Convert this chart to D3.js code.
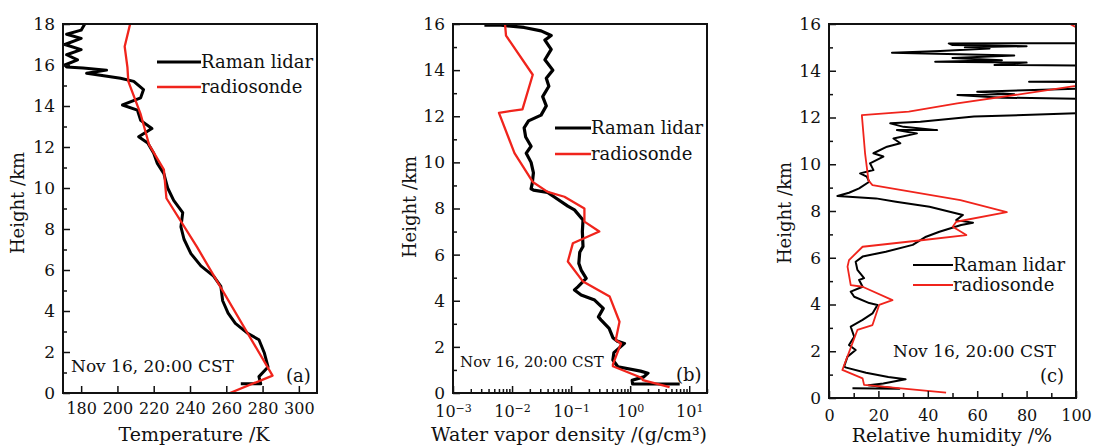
<!DOCTYPE html>
<html lang="en">
<head>
    <meta charset="UTF-8">
    <title>Raman lidar vs radiosonde</title>
    <script src="https://d3js.org/d3.v7.min.js"></script>
</head>
<body>
    <div class="chart"></div>
    <style>
        body{ margin:0; background:#fff; }
        .chart{ width:1093px; height:447px; }
        text{ font-family:"DejaVu Serif", serif; fill:#111; }
    </style>
    <script>
    // ---- data: [value, height km] ----
    // (a) temperature /K
    const tempLidar = [[268,0.45],[279,0.45],[278,0.8],[283,1.27],[281,1.95],[278,2.6],[272,2.9],[265,3.4],[261,3.9],
        [258,4.5],[257,5.2],[253,5.7],[246,6.2],[240.5,6.8],[236.7,7.5],[235,8.1],[236,8.8],[231,9.4],[227.7,10.0],
        [226.5,10.4],[225.6,10.7],[222,11.2],[220,11.7],[216.7,12.2],[211.7,12.5],[219,12.9],[212.8,13.3],[211,13.8],
        [202.8,14.05],[212.8,14.4],[214.4,14.8],[209,15.2],[201.7,15.35],[190.6,15.5],[183,15.6],[194,15.75],[181,15.85],
        [172,15.9],[171,16],[178,16.25],[172,16.5],[180,16.75],[171,17],[180,17.3],[172,17.5],[180,17.7],[182,18]];
    const tempSonde = [[262,0],[285.5,0.85],[244,7.1],[227,9.5],[225.6,10.9],[217.5,12.1],[212.8,13.6],[206,15.2],
        [205.5,15.9],[204,16.9],[207,18]];
    // (b) water vapor density /(g/cm3)
    const wvLidar = [[6.9,0.39],[1.1,0.39],[1.08,0.55],[1.7,0.7],[2.0,0.86],[1.5,0.95],[0.62,1.14],[0.51,1.43],[0.53,1.75],
        [0.8,2.15],[0.6,2.25],[0.51,2.4],[0.44,2.8],[0.32,3.17],[0.29,3.3],[0.35,3.67],[0.25,4.03],[0.148,4.25],[0.114,4.47],
        [0.13,4.6],[0.18,4.97],[0.148,5.33],[0.135,5.62],[0.14,6.1],[0.159,6.35],[0.155,7.0],[0.159,7.5],[0.114,7.94],
        [0.088,8.1],[0.052,8.5],[0.04,8.7],[0.023,8.8],[0.021,8.85],[0.022,9.1],[0.023,9.55],[0.021,10],[0.0174,10.4],
        [0.021,10.7],[0.017,11.1],[0.016,11.5],[0.019,11.8],[0.031,12.05],[0.038,12.45],[0.033,12.85],[0.042,13.3],
        [0.038,13.65],[0.049,14.0],[0.036,14.45],[0.046,14.9],[0.036,15.3],[0.046,15.5],[0.031,15.7],[0.016,15.85],
        [0.0065,15.95],[0.0034,15.95]];
    const wvSonde = [[4.65,0.25],[1.64,0.56],[1.55,0.66],[0.51,1.16],[0.51,1.24],[0.70,2.15],[0.57,2.3],[0.66,3.09],
        [0.45,4.18],[0.159,4.83],[0.088,5.7],[0.107,6.49],[0.30,7.0],[0.168,7.43],[0.168,8.0],[0.077,8.51],[0.04,8.72],
        [0.0224,9.15],[0.011,10.4],[0.006,12.15],[0.015,12.3],[0.0224,13.8],[0.0079,15.5],[0.0076,16]];
    // (c) relative humidity /%
    const rhLidar = [[9.5,0.42],[28.5,0.4],[16,0.55],[22,0.62],[31,0.8],[24,0.9],[15,1.08],[7,1.3],[6.1,1.34],[7.5,1.77],
        [10.8,2.05],[8.1,2.27],[10.2,2.62],[8.8,3.05],[13.6,3.34],[17.6,3.62],[19.6,3.98],[16.3,4.06],[10.2,4.33],[8.8,4.55],
        [13.6,4.76],[12.2,5.05],[14.2,5.13],[11.5,5.48],[10.8,5.83],[13.6,6.05],[23,6.26],[33.9,6.55],[39.3,6.9],[44.7,7.11],
        [53.5,7.4],[58.3,7.5],[51.5,7.61],[54.2,7.83],[40.7,8.18],[27.1,8.4],[19,8.54],[3.4,8.64],[8.1,8.78],[12.2,8.97],
        [16.3,9.25],[15.3,9.47],[12.6,9.61],[18,9.75],[16.6,10.04],[22,10.33],[18,10.47],[23.5,10.75],[28.9,10.9],
        [26.1,11.1],[35.6,11.32],[27.5,11.46],[43.8,11.46],[30.2,11.6],[24.8,11.75],[37,11.82],[58.7,12.04],[100,12.18],
        [130,12.2],[130,12.75],[70,12.85],[52,12.96],[75,13.0],[60,13.1],[90,13.2],[130,13.3],[130,13.5],[81,13.53],
        [130,13.56],[130,14.2],[67,14.25],[80,14.35],[43,14.39],[70,14.45],[50,14.55],[75,14.65],[25.5,14.77],[45,14.85],
        [65,14.95],[55,15.0],[80,15.05],[50,15.1],[48.5,15.17],[130,15.18]];
    const rhSonde = [[47.4,0.23],[14.2,0.56],[13.6,0.84],[5.4,1.2],[11.5,2.91],[17.6,3.12],[20.3,3.98],[25.7,4.19],
        [13.6,4.76],[8.8,4.83],[7.5,5.62],[8.1,5.9],[13.6,6.47],[38.3,6.76],[55.6,6.97],[50.1,7.33],[51.5,7.54],[72,7.95],
        [53.2,8.47],[17.6,9.11],[16,9.3],[14.6,10.47],[13.3,12.1],[32.3,12.25],[51.9,12.6],[100,13.35],[115,14.5],
        [100,15.86],[97.6,16]];

    const tempTicks = [180,200,220,240,260,280,300];
    const wvTicks = [1e-3,1e-2,1e-1,1,10];
    const rhTicks = [0,20,40,60,80,100];

    const svg = d3.select('.chart').append('svg')
        .attr('width',1093).attr('height',447);

    const fmtPow = d => Math.round(Math.log10(d));

    function drawPanel(p){
        const g = svg.append('g');
        const x = (p.log ? d3.scaleLog() : d3.scaleLinear()).domain(p.xDomain).range([p.left,p.right]);
        const y = d3.scaleLinear().domain(p.yDomain).range([p.bottom,p.top]);

        g.append('clipPath').attr('id','clip'+p.id).append('rect')
            .attr('x',p.left).attr('y',p.top).attr('width',p.right-p.left).attr('height',p.bottom-p.top);

        const line = d3.line().x(d=>x(d[0])).y(d=>y(d[1]));
        g.append('path').attr('d',line(p.lidar)).attr('fill','none')
            .attr('stroke','#000').attr('stroke-width',p.lidarW).attr('stroke-linejoin','round')
            .attr('clip-path','url(#clip'+p.id+')');
        g.append('path').attr('d',line(p.sonde)).attr('fill','none')
            .attr('stroke','#f0241c').attr('stroke-width',p.sondeW).attr('stroke-linejoin','round')
            .attr('clip-path','url(#clip'+p.id+')');

        // minor ticks
        const minorX = g.append('g').attr('transform',`translate(0,${p.bottom})`)
            .call(d3.axisBottom(x).tickValues(p.xMinor).tickSize(-p.xMinorLen).tickFormat(''));
        const minorY = g.append('g').attr('transform',`translate(${p.left},0)`)
            .call(d3.axisLeft(y).tickValues(d3.range(p.yDomain[0]+1,p.yDomain[1],2)).tickSize(-4).tickFormat(''));
        [minorX,minorY].forEach(a=>a.select('.domain').remove());

        // major ticks
        const xAxis = d3.axisBottom(x).tickValues(p.xTicks).tickSize(-7).tickPadding(p.xPad);
        if(p.log) xAxis.tickFormat(d=>'');
        const xg = g.append('g').attr('transform',`translate(0,${p.bottom})`).call(xAxis);
        const yg = g.append('g').attr('transform',`translate(${p.left},0)`)
            .call(d3.axisLeft(y).tickValues(d3.range(p.yDomain[0],p.yDomain[1]+1,2)).tickSize(-7).tickPadding(8));
        [xg,yg].forEach(a=>{
            a.select('.domain').remove();
            a.selectAll('text').style('font-size','16px').style('font-family','"DejaVu Serif", serif').attr('fill','#111');
        });
        yg.selectAll('text').style('font-size','17px');
        g.selectAll('.tick line').attr('stroke','#111').attr('stroke-width',1.5);

        if(p.log){
            xg.selectAll('.tick text').each(function(d){
                const t = d3.select(this);
                const e = fmtPow(d);
                t.append('tspan').text('10');
                t.append('tspan').text(e<0 ? '\u2212'+(-e) : e).attr('dy','-0.45em').style('font-size','11px');
            });
        }

        // frame
        g.append('rect').attr('x',p.left).attr('y',p.top)
            .attr('width',p.right-p.left).attr('height',p.bottom-p.top)
            .attr('fill','none').attr('stroke','#111').attr('stroke-width',2);

        // axis titles
        g.append('text').attr('x',p.xTitleX).attr('y',p.xTitleY).attr('text-anchor','middle')
            .style('font-size','19px').text(p.xTitle);
        g.append('text').attr('transform',`translate(${p.yTitleX},${p.yTitleY}) rotate(-90)`)
            .attr('text-anchor','middle').attr('dy','0.35em')
            .style('font-size','18px').text('Height /km');

        // legend
        const lg = p.legend;
        g.append('line').attr('x1',lg.x).attr('x2',lg.x+lg.len).attr('y1',lg.y).attr('y2',lg.y)
            .attr('stroke','#000').attr('stroke-width',p.lidarW);
        g.append('line').attr('x1',lg.x).attr('x2',lg.x+lg.len).attr('y1',lg.y+lg.gap).attr('y2',lg.y+lg.gap)
            .attr('stroke','#f0241c').attr('stroke-width',p.sondeW);
        g.append('text').attr('x',lg.x+lg.len).attr('y',lg.y+6).style('font-size','18px').text('Raman lidar');
        g.append('text').attr('x',lg.x+lg.len).attr('y',lg.y+lg.gap+6).style('font-size','18px').text('radiosonde');

        // notes
        g.append('text').attr('x',p.note.x).attr('y',p.note.y).style('font-size',p.note.size+'px').text('Nov 16, 20:00 CST');
        g.append('text').attr('x',p.tag.x).attr('y',p.tag.y).style('font-size','18px').text(p.tag.label);
    }

    // log minor tick values
    const logMinor = [];
    for(let e=-3;e<=1;e++) for(let m=2;m<=9;m++){ const v=m*Math.pow(10,e); if(v<=20) logMinor.push(v); }

    drawPanel({id:'a', left:63, right:317, top:24, bottom:393, xDomain:[170,310], yDomain:[0,18],
        xTicks:tempTicks, xMinor:[], xMinorLen:4, xPad:10,
        lidar:tempLidar, sonde:tempSonde, lidarW:3, sondeW:2.3,
        xTitle:'Temperature /K', xTitleX:194, xTitleY:441, yTitleX:18, yTitleY:203,
        legend:{x:157,y:62,len:44,gap:25},
        note:{x:71,y:372,size:17}, tag:{x:286,y:382,label:'(a)'}});

    drawPanel({id:'b', log:true, left:453, right:707, top:24, bottom:393, xDomain:[1e-3,20], yDomain:[0,16],
        xTicks:wvTicks, xMinor:logMinor, xMinorLen:4, xPad:13,
        lidar:wvLidar, sonde:wvSonde, lidarW:3.2, sondeW:2.3,
        xTitle:'Water vapor density /(g/cm³)', xTitleX:569, xTitleY:441, yTitleX:410, yTitleY:207,
        legend:{x:555,y:128,len:36,gap:26},
        note:{x:460,y:367,size:15}, tag:{x:676,y:381,label:'(b)'}});

    drawPanel({id:'c', left:829, right:1076, top:24, bottom:398, xDomain:[0,100], yDomain:[0,16],
        xTicks:rhTicks, xMinor:[10,30,50,70,90], xMinorLen:5, xPad:12,
        lidar:rhLidar, sonde:rhSonde, lidarW:2, sondeW:1.8,
        xTitle:'Relative humidity /%', xTitleX:952, xTitleY:442, yTitleX:785, yTitleY:213,
        legend:{x:913,y:265,len:40,gap:20},
        note:{x:893,y:357,size:17}, tag:{x:1040,y:382,label:'(c)'}});
    </script>
</body>
</html>
